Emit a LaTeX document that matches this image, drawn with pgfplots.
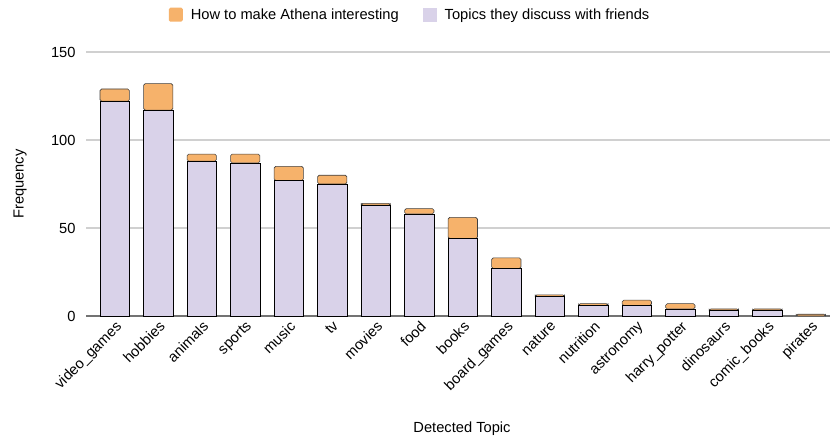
\documentclass[border=0pt]{standalone}
\usepackage{pgfplots}
\pgfplotsset{compat=1.18}
\usepackage{fontspec}
\setmainfont{Liberation Sans}
\definecolor{orangeA}{HTML}{F6B26B}
\definecolor{lavA}{HTML}{D9D2E9}
\definecolor{gridc}{HTML}{D0D0D0}
\begin{document}
\fontsize{11pt}{13pt}\selectfont
\begin{tikzpicture}[x=0.75pt,y=0.75pt]
\useasboundingbox (-86,-127) rectangle (744,316);
\begin{axis}[
  at={(0,0)}, anchor=south west,
  scale only axis, width=558pt, height=198pt,
  ybar stacked, bar width=22pt,
  xmin=-0.66, xmax=16.44, ymin=0, ymax=150,
  xtick={0,...,16},
  xticklabels={video\_games,hobbies,animals,sports,music,tv,movies,food,books,board\_games,nature,nutrition,astronomy,harry\_potter,dinosaurs,comic\_books,pirates},
  xticklabel style={rotate=45, anchor=north east, inner sep=2pt, font=\fontsize{11pt}{13pt}\selectfont},
  yticklabel style={font=\fontsize{11pt}{13pt}\selectfont, xshift=-4pt},
  /pgf/number format/assume math mode=true,
  ytick={0,50,100,150},
  major tick length=0pt,
  ymajorgrids, grid style={gridc, line width=0.8pt},
  axis x line*=bottom, axis y line*=left,
  y axis line style={draw=none},
  x axis line style={draw=gray!90!black, line width=1pt, -},
  ylabel={Frequency}, xlabel={Detected Topic},
  ylabel style={at={([xshift=-49.5pt]rel axis cs:0,0.5)}, anchor=center},
  xlabel style={at={([yshift=-84.75pt,xshift=3pt]rel axis cs:0.5,0)}, anchor=center},
  label style={font=\fontsize{11pt}{13pt}\selectfont},
  reverse legend,
  legend columns=2,
  legend style={draw=none, at={(0.436,1.14)}, anchor=center, font=\fontsize{11pt}{13pt}\selectfont, /tikz/every even column/.append style={column sep=16pt}},
  legend image code/.code={\fill[#1, draw=none] (0pt,-5pt) rectangle (10.5pt,5.5pt);},
  legend cell align=left,
  clip=false,
]
\addplot[fill=lavA, draw=black, line width=0.55pt] coordinates {
(0,122) (1,117) (2,88) (3,87) (4,77) (5,75) (6,63) (7,58) (8,44) (9,27) (10,11) (11,6) (12,6) (13,4) (14,3) (15,3) (16,0)};
\addlegendentry{\hspace{4pt}Topics they discuss with friends}
\addplot[fill=orangeA, draw=black!75, line width=0.45pt, rounded corners=1.2pt] coordinates {
(0,7) (1,15) (2,4) (3,5) (4,8) (5,5) (6,1) (7,3) (8,12) (9,6) (10,1) (11,1) (12,3) (13,3) (14,1) (15,1) (16,1)};
\addlegendentry{\hspace{4pt}How to make Athena interesting}
\end{axis}
\end{tikzpicture}
\end{document}
